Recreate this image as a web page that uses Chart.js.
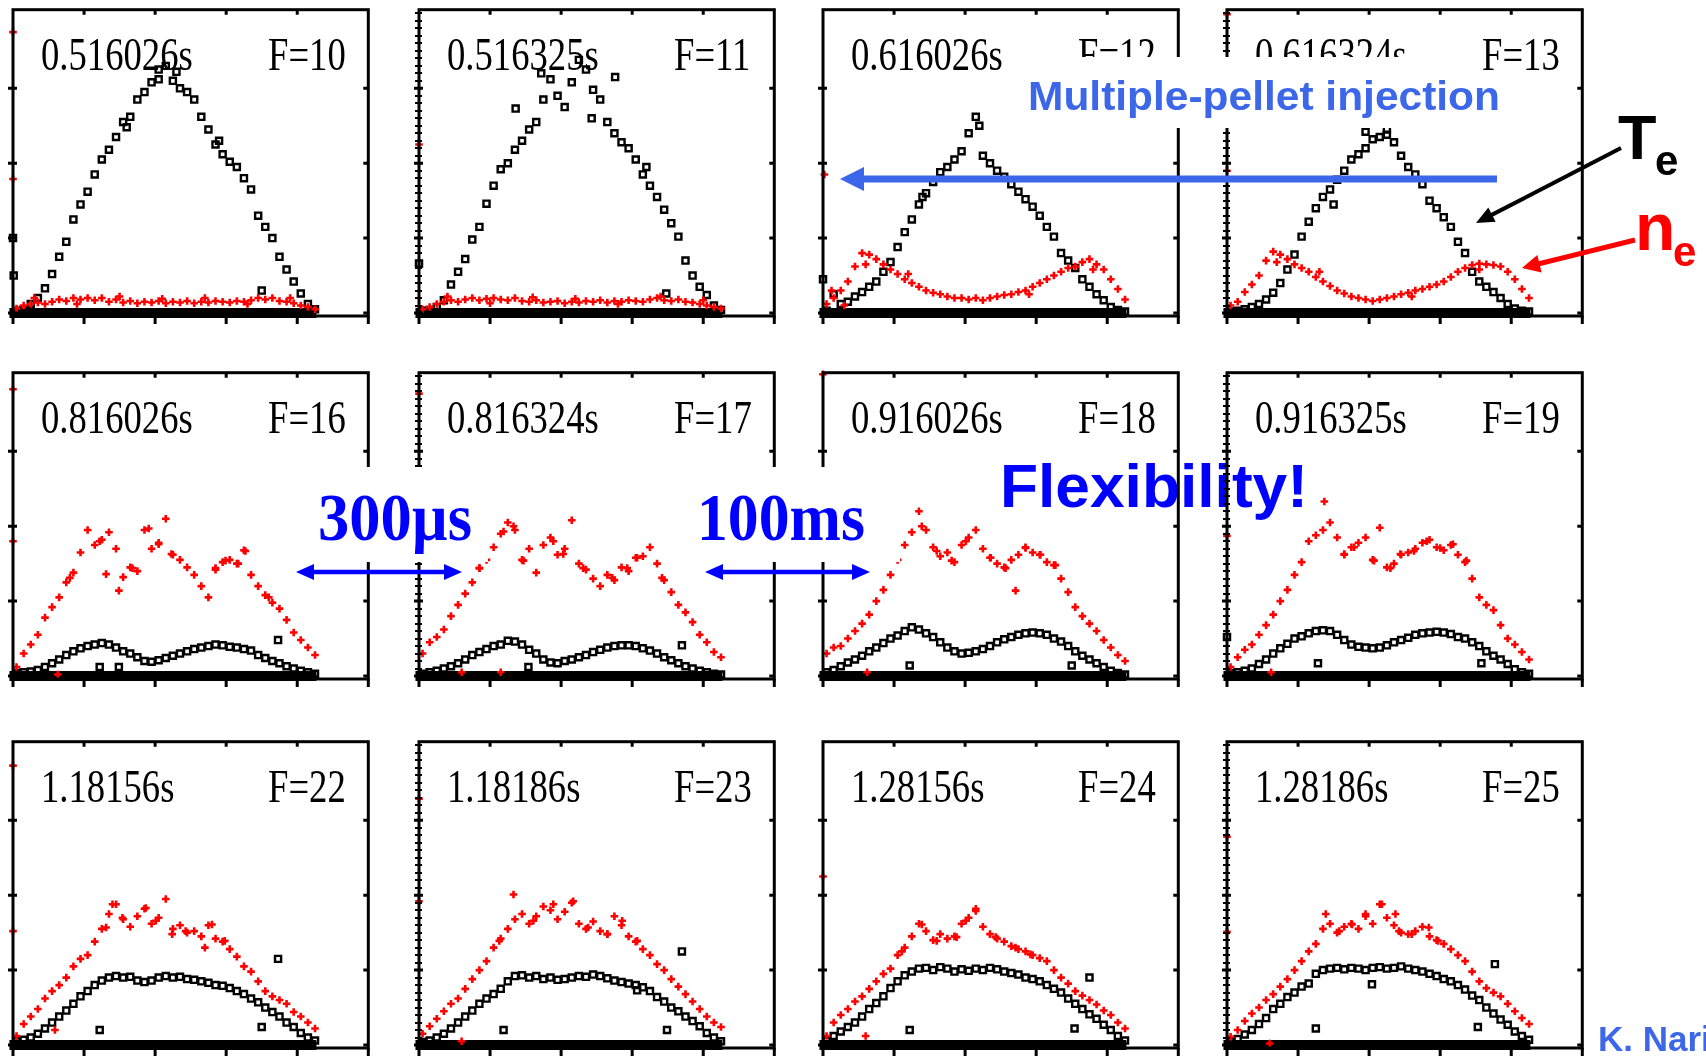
<!DOCTYPE html>
<html>
<head>
<meta charset="utf-8">
<script src="https://cdn.jsdelivr.net/npm/chart.js@4.4.1/dist/chart.umd.min.js"></script>
<style>
  body { margin: 0; background: #fff; }
  #page { position: relative; width: 1706px; height: 1057px; overflow: hidden; background: #fff; }
  #page canvas { position: absolute; z-index: 1; }
  #under, #over { position: absolute; left: 0; top: 0; }
  #under { z-index: 0; }
  #over { z-index: 2; }
</style>
</head>
<body>
<div id="page">
  <svg id="under" width="1706" height="1057">
    <text x="1000" y="507" font-family="Liberation Sans, Arial, sans-serif" font-weight="bold" font-size="62" fill="#0000ff" textLength="308" lengthAdjust="spacingAndGlyphs">Flexibility!</text>
  </svg>
  <svg id="over" width="1706" height="1057">
    <!-- white boxes behind the annotations -->
    <rect x="296" y="467" width="192" height="95" fill="#fff"/>
    <rect x="690" y="467" width="210" height="95" fill="#fff"/>
    <rect x="1005" y="57" width="471" height="71" fill="#fff"/>
    <text x="1028" y="110" font-family="Liberation Sans, Arial, sans-serif" font-weight="bold" font-size="41" fill="#3c67e8" textLength="472" lengthAdjust="spacingAndGlyphs">Multiple-pellet injection</text>
    <text x="318" y="540" font-family="Liberation Serif, Times New Roman, serif" font-weight="bold" font-size="68" fill="#0000ff" textLength="154" lengthAdjust="spacingAndGlyphs">300µs</text>
    <text x="697" y="540" font-family="Liberation Serif, Times New Roman, serif" font-weight="bold" font-size="68" fill="#0000ff" textLength="168" lengthAdjust="spacingAndGlyphs">100ms</text>
    <text x="1618" y="159" font-family="Liberation Sans, Arial, sans-serif" font-weight="bold" font-size="63" fill="#000">T</text>
    <text x="1655" y="175" font-family="Liberation Sans, Arial, sans-serif" font-weight="bold" font-size="42" fill="#000">e</text>
    <text x="1635" y="250" font-family="Liberation Sans, Arial, sans-serif" font-weight="bold" font-size="66" fill="#ff0000">n</text>
    <text x="1673" y="266" font-family="Liberation Sans, Arial, sans-serif" font-weight="bold" font-size="42" fill="#ff0000">e</text>
    <text x="1598" y="1051" font-family="Liberation Sans, Arial, sans-serif" font-weight="bold" font-size="35" fill="#3c67e8">K. Narihara</text>
  </svg>
</div>
<script>
// Thomson scattering channel radii (shared by every frame)
const chanR = [0.05,0.15,0.25,0.35,0.45,0.55,0.65,0.75,0.85,0.95,1.05,1.15,1.25,1.35,1.45,1.55,1.65,1.75,1.85,1.95,2.05,2.15,2.25,2.35,2.45,2.55,2.65,2.75,2.85,2.95,3.05,3.15,3.25,3.35,3.45,3.55,3.65,3.75,3.85,3.95,4.05,4.15,4.25];
const xTicks = [0, 1, 2, 3, 4, 5];
const yTicks = [0, 1, 2, 3];
const zeroBand = [-0.05, 4.27];   // channels sitting at zero

const panelTimes = ['0.516026s','0.516325s','0.616026s','0.616324s','0.816026s','0.816324s','0.916026s','0.916325s','1.18156s','1.18186s','1.28156s','1.28186s'];
const panelFrames = ['F=10','F=11','F=12','F=13','F=16','F=17','F=18','F=19','F=22','F=23','F=24','F=25'];

// Te (black) and ne (red) per frame, one value per channel
const teF10 = [0.03,0.05,0.12,0.2,0.33,0.52,0.75,0.95,1.25,1.45,1.62,1.85,2.05,2.18,2.35,2.55,2.62,2.85,2.95,3.08,3.25,3.3,3.1,3.0,2.95,2.85,2.62,2.45,2.25,2.12,2.02,1.95,1.8,1.65,1.3,1.15,1.0,0.75,0.58,0.42,0.26,0.12,0.05];
const neF10 = [0.06,0.1,0.12,0.14,0.12,0.15,0.18,0.16,0.2,0.18,0.2,0.17,0.2,0.15,0.18,0.14,0.16,0.13,0.15,0.14,0.16,0.13,0.15,0.14,0.16,0.13,0.15,0.14,0.16,0.15,0.14,0.16,0.15,0.17,0.2,0.18,0.2,0.16,0.15,0.13,0.1,0.08,0.05];
const teF11 = [0.03,0.04,0.08,0.17,0.38,0.55,0.72,0.98,1.15,1.46,1.7,1.92,2.0,2.18,2.3,2.45,2.55,2.85,3.12,2.9,2.75,3.08,3.38,3.25,2.98,2.85,2.55,2.4,2.28,2.2,2.05,1.85,1.7,1.55,1.38,1.2,1.02,0.7,0.5,0.35,0.24,0.1,0.04];
const neF11 = [0.05,0.08,0.12,0.15,0.17,0.15,0.18,0.2,0.17,0.19,0.2,0.18,0.17,0.2,0.16,0.15,0.17,0.14,0.15,0.16,0.13,0.15,0.14,0.16,0.15,0.17,0.14,0.16,0.15,0.17,0.16,0.15,0.18,0.2,0.17,0.16,0.18,0.15,0.14,0.12,0.1,0.08,0.06];
const teF12 = [0.03,0.25,0.12,0.15,0.22,0.28,0.35,0.42,0.55,0.68,0.88,1.08,1.25,1.45,1.6,1.75,1.88,1.95,2.05,2.16,2.4,2.62,2.1,2.0,1.9,1.82,1.72,1.62,1.52,1.42,1.3,1.15,1.02,0.8,0.7,0.6,0.45,0.35,0.25,0.17,0.08,0.04,0.02];
const neF12 = [0.12,0.2,0.3,0.42,0.62,0.8,0.78,0.72,0.65,0.58,0.52,0.45,0.4,0.35,0.3,0.27,0.25,0.22,0.2,0.2,0.18,0.2,0.17,0.2,0.22,0.24,0.25,0.28,0.3,0.35,0.4,0.45,0.5,0.55,0.6,0.62,0.68,0.72,0.65,0.58,0.45,0.32,0.18];
const teF13 = [0.02,0.03,0.05,0.08,0.12,0.18,0.27,0.4,0.58,0.78,1.02,1.22,1.4,1.55,1.65,1.78,1.9,2.05,2.12,2.2,2.32,2.35,2.38,2.28,2.1,1.95,1.85,1.72,1.5,1.4,1.28,1.15,0.95,0.8,0.55,0.42,0.35,0.28,0.2,0.12,0.06,0.03,0.02];
const neF13 = [0.1,0.15,0.28,0.38,0.5,0.7,0.82,0.78,0.72,0.65,0.6,0.55,0.48,0.42,0.36,0.3,0.26,0.22,0.2,0.18,0.16,0.18,0.2,0.22,0.25,0.27,0.3,0.32,0.35,0.38,0.42,0.48,0.55,0.6,0.64,0.66,0.65,0.64,0.62,0.55,0.45,0.32,0.2];
const teF16 = [0.04,0.05,0.06,0.08,0.12,0.17,0.22,0.28,0.33,0.37,0.4,0.42,0.44,0.42,0.38,0.33,0.3,0.25,0.2,0.19,0.21,0.24,0.27,0.3,0.33,0.36,0.38,0.4,0.42,0.41,0.39,0.38,0.36,0.34,0.28,0.24,0.2,0.17,0.13,0.1,0.07,0.05,0.03];
const neF16 = [0.12,0.3,0.42,0.55,0.78,0.92,1.05,1.25,1.38,1.65,1.95,1.75,1.82,1.92,1.7,1.32,1.45,1.4,1.95,1.7,1.78,2.1,1.62,1.55,1.45,1.35,1.2,1.05,1.42,1.52,1.55,1.5,1.68,1.35,1.2,1.08,0.98,0.9,0.75,0.58,0.48,0.38,0.28];
const teF17 = [0.03,0.05,0.07,0.1,0.13,0.17,0.22,0.28,0.32,0.36,0.4,0.42,0.47,0.46,0.42,0.35,0.3,0.22,0.18,0.17,0.2,0.22,0.25,0.28,0.32,0.35,0.38,0.4,0.41,0.41,0.4,0.37,0.34,0.3,0.25,0.21,0.17,0.13,0.1,0.07,0.05,0.03,0.02];
const neF17 = [0.3,0.45,0.52,0.62,0.8,0.95,1.1,1.25,1.44,1.55,1.72,1.9,2.05,1.95,1.55,1.7,1.38,1.75,1.85,1.62,1.7,2.08,1.5,1.42,1.3,1.2,1.35,1.28,1.45,1.4,1.58,1.6,1.72,1.5,1.28,1.12,0.95,0.85,0.72,0.55,0.45,0.32,0.25];
const teF18 = [0.05,0.08,0.13,0.18,0.22,0.27,0.33,0.38,0.44,0.5,0.54,0.6,0.65,0.62,0.57,0.52,0.45,0.38,0.33,0.3,0.31,0.33,0.36,0.4,0.45,0.49,0.52,0.55,0.57,0.58,0.57,0.55,0.5,0.46,0.4,0.33,0.27,0.22,0.17,0.12,0.07,0.04,0.02];
const neF18 = [0.3,0.38,0.4,0.5,0.6,0.7,0.82,1.0,1.15,1.35,1.55,1.75,1.92,2.2,1.95,1.72,1.6,1.65,1.52,1.75,1.85,1.95,1.7,1.58,1.5,1.45,1.55,1.62,1.72,1.65,1.62,1.52,1.48,1.3,1.12,0.92,0.8,0.7,0.6,0.48,0.38,0.28,0.2];
const teF19 = [0.04,0.05,0.07,0.1,0.16,0.22,0.3,0.37,0.43,0.5,0.53,0.57,0.6,0.61,0.6,0.55,0.48,0.42,0.39,0.38,0.37,0.38,0.41,0.45,0.48,0.51,0.55,0.57,0.58,0.59,0.58,0.56,0.52,0.5,0.45,0.4,0.33,0.27,0.22,0.16,0.09,0.05,0.03];
const neF19 = [0.12,0.25,0.35,0.42,0.55,0.68,0.82,1.0,1.15,1.35,1.52,1.8,1.88,1.95,2.05,1.85,1.62,1.72,1.78,1.85,1.55,1.98,1.45,1.5,1.62,1.65,1.7,1.78,1.82,1.72,1.68,1.75,1.62,1.52,1.3,1.05,0.95,0.88,0.68,0.5,0.42,0.32,0.22];
const teF22 = [0.05,0.07,0.1,0.15,0.22,0.3,0.38,0.46,0.55,0.65,0.72,0.8,0.86,0.9,0.92,0.9,0.91,0.86,0.84,0.86,0.9,0.92,0.9,0.91,0.88,0.87,0.85,0.83,0.8,0.79,0.76,0.72,0.68,0.62,0.57,0.5,0.44,0.38,0.3,0.24,0.16,0.1,0.06];
const neF22 = [0.12,0.28,0.38,0.48,0.62,0.72,0.8,0.9,1.05,1.15,1.2,1.38,1.55,1.75,1.88,1.68,1.58,1.72,1.82,1.62,1.7,1.95,1.55,1.6,1.5,1.52,1.45,1.6,1.42,1.38,1.28,1.18,1.05,0.98,0.85,0.72,0.65,0.6,0.55,0.44,0.38,0.3,0.22];
const teF23 = [0.04,0.06,0.1,0.15,0.22,0.3,0.38,0.46,0.55,0.62,0.68,0.75,0.85,0.92,0.93,0.9,0.92,0.88,0.9,0.87,0.88,0.9,0.92,0.91,0.94,0.92,0.89,0.86,0.84,0.82,0.8,0.77,0.72,0.64,0.58,0.5,0.45,0.38,0.32,0.25,0.16,0.1,0.05];
const neF23 = [0.15,0.25,0.35,0.45,0.55,0.62,0.75,0.88,1.0,1.12,1.3,1.42,1.55,1.68,1.75,1.62,1.72,1.85,1.8,1.68,1.78,1.9,1.62,1.55,1.65,1.52,1.48,1.72,1.6,1.45,1.38,1.28,1.2,1.08,1.0,0.88,0.78,0.68,0.58,0.48,0.38,0.3,0.24];
const teF24 = [0.06,0.12,0.18,0.24,0.3,0.38,0.48,0.56,0.65,0.76,0.85,0.93,0.98,1.02,1.03,1.0,1.04,1.02,0.98,1.01,0.99,1.02,1.0,1.03,1.01,0.98,0.96,0.94,0.9,0.88,0.85,0.8,0.75,0.7,0.62,0.55,0.48,0.41,0.35,0.27,0.2,0.12,0.06];
const neF24 = [0.12,0.3,0.4,0.48,0.58,0.65,0.75,0.85,0.95,1.02,1.2,1.3,1.45,1.62,1.52,1.4,1.48,1.42,1.45,1.62,1.7,1.82,1.58,1.48,1.42,1.38,1.32,1.28,1.25,1.2,1.16,1.12,1.0,0.9,0.82,0.72,0.66,0.6,0.54,0.46,0.4,0.3,0.22];
const teF25 = [0.05,0.08,0.14,0.2,0.28,0.36,0.48,0.55,0.64,0.7,0.78,0.82,0.95,1.0,1.02,1.03,1.01,1.03,1.02,1.0,1.03,1.04,1.02,1.03,1.05,1.02,1.0,0.98,0.95,0.92,0.88,0.85,0.8,0.74,0.66,0.6,0.5,0.42,0.34,0.27,0.18,0.12,0.07];
const neF25 = [0.11,0.2,0.32,0.42,0.5,0.6,0.68,0.78,0.88,1.0,1.12,1.25,1.35,1.55,1.62,1.5,1.58,1.62,1.55,1.72,1.62,1.88,1.7,1.6,1.5,1.48,1.52,1.58,1.45,1.4,1.35,1.28,1.2,1.12,0.98,0.85,0.76,0.7,0.65,0.55,0.45,0.36,0.28];

// extra scattered points [r, value]
const teExtraF10 = [[0.0,1.0],[0.01,0.5],[3.5,0.3],[2.05,3.12],[2.3,3.22],[1.6,2.48],[2.9,2.3]];
const neExtraF10 = [[0.0,3.75],[0.0,1.79],[0.3,0.2],[0.9,0.12],[1.5,0.22],[2.1,0.19],[2.7,0.2],[3.3,0.12],[3.9,0.2]];
const teExtraF11 = [[1.36,2.73],[2.76,3.15],[0.0,0.66],[3.48,0.26],[1.72,3.2],[2.43,2.6],[3.2,1.95]];
const neExtraF11 = [[0.0,2.25],[0.4,0.22],[1.0,0.13],[1.6,0.21],[2.2,0.19],[2.8,0.12],[3.4,0.22],[4.0,0.17]];
const teExtraF12 = [[0.0,0.45],[2.2,2.5],[1.4,1.55]];
const neExtraF12 = [[0.02,1.85],[0.3,0.1],[0.12,0.3],[0.6,0.65],[3.8,0.58],[1.2,0.52],[2.9,0.25]];
const teExtraF13 = [[1.95,2.42],[2.25,2.45],[1.5,1.45]];
const neExtraF13 = [[0.0,3.99],[0.0,1.9],[0.7,0.68],[3.55,0.58],[1.3,0.55],[2.6,0.22]];
const teExtraF16 = [[1.22,0.12],[1.49,0.12],[3.73,0.48]];
const neExtraF16 = [[0.0,3.83],[0.0,1.8],[1.22,1.8],[1.49,1.14],[1.68,1.44],[2.05,1.76],[2.23,1.63],[2.85,1.44],[3.17,1.5],[1.31,1.36],[1.91,1.97],[0.8,1.31],[2.99,1.54],[3.27,1.67],[3.6,1.05],[0.63,0.02]];
const teExtraF17 = [[1.54,0.12],[3.7,0.41]];
const neExtraF17 = [[0.0,3.77],[1.33,2.0],[2.03,1.63],[2.31,1.44],[2.72,1.31],[1.47,1.54],[1.89,1.8],[3.07,1.58],[0.85,1.44],[2.93,1.44],[3.42,1.31],[1.19,1.93],[0.6,0.05],[1.15,0.05]];
const teExtraF18 = [[1.22,0.14],[3.5,0.14]];
const neExtraF18 = [[0.0,4.03],[1.6,1.67],[2.01,1.8],[2.36,1.58],[2.71,1.14],[2.85,1.71],[3.06,1.62],[1.81,1.54],[1.39,2.0],[2.57,1.44],[3.27,1.48],[0.62,0.05]];
const teExtraF19 = [[1.28,0.17],[3.58,0.17],[0.0,0.52]];
const neExtraF19 = [[0.0,1.87],[1.37,2.33],[1.65,1.63],[2.07,1.54],[2.3,1.44],[2.44,1.63],[2.81,1.8],[3.0,1.71],[3.18,1.76],[1.79,1.72],[2.63,1.67],[3.37,1.54],[0.62,0.05]];
const teExtraF22 = [[1.22,0.2],[3.5,0.24],[3.73,1.15]];
const neExtraF22 = [[0.0,3.73],[0.0,1.52],[1.4,1.88],[1.54,1.7],[2.24,1.48],[2.43,1.52],[2.7,1.3],[2.8,1.61],[1.87,1.83],[2.01,1.66],[2.98,1.39],[1.31,1.57],[0.59,0.2]];
const teExtraF23 = [[1.19,0.2],[3.49,0.2],[3.7,1.25],[3.07,0.73]];
const neExtraF23 = [[0.0,3.29],[0.0,1.92],[1.33,2.01],[1.61,1.66],[2.38,1.57],[2.65,1.48],[2.86,1.66],[3.07,1.39],[1.89,1.88],[2.17,1.92],[1.13,1.39],[0.6,0.05]];
const teExtraF24 = [[1.22,0.2],[3.54,0.22],[3.75,0.9]];
const neExtraF24 = [[0.0,2.25],[1.6,1.39],[1.88,1.44],[2.01,1.66],[2.43,1.44],[2.71,1.3],[2.92,1.21],[1.39,1.61],[2.15,1.79],[1.11,1.25],[0.6,0.12]];
const teExtraF25 = [[1.25,0.22],[3.53,0.24],[3.77,1.08],[2.04,0.81]];
const neExtraF25 = [[0.0,2.78],[0.0,1.51],[1.39,1.75],[1.58,1.52],[1.76,1.61],[2.18,1.88],[2.37,1.75],[2.42,1.52],[2.6,1.48],[2.84,1.57],[2.97,1.39],[1.95,1.75],[0.6,0.02]];

const panels = [
  [teF10, neF10, teExtraF10, neExtraF10], [teF11, neF11, teExtraF11, neExtraF11],
  [teF12, neF12, teExtraF12, neExtraF12], [teF13, neF13, teExtraF13, neExtraF13],
  [teF16, neF16, teExtraF16, neExtraF16], [teF17, neF17, teExtraF17, neExtraF17],
  [teF18, neF18, teExtraF18, neExtraF18], [teF19, neF19, teExtraF19, neExtraF19],
  [teF22, neF22, teExtraF22, neExtraF22], [teF23, neF23, teExtraF23, neExtraF23],
  [teF24, neF24, teExtraF24, neExtraF24], [teF25, neF25, teExtraF25, neExtraF25]
];

// page layout
const colLeft = [13, 419, 823, 1227];
const rowBottom = [316, 679, 1048];
const PW = 358, PH = 309;
const PAD = { left: 8, right: 4, top: 4, bottom: 12 };

function squeezeText(ctx, text, x, y, sx) {
  ctx.save();
  ctx.translate(x, y);
  ctx.scale(sx, 1);
  ctx.fillText(text, 0, 0);
  ctx.restore();
}

const framePlugin = {
  id: 'frame',
  beforeDatasetsDraw(chart, args, opts) {
    const ctx = chart.ctx, a = chart.chartArea;
    ctx.save();
    ctx.font = '47px "Liberation Serif"';
    ctx.fillStyle = '#000';
    squeezeText(ctx, opts.time, a.left + 28, a.top + 60, 0.78);
    squeezeText(ctx, opts.frame, a.left + 255, a.top + 60, 0.78);
    ctx.restore();
  },
  afterDatasetsDraw(chart, args, opts) {
    const ctx = chart.ctx, a = chart.chartArea;
    const x = chart.scales.x, y = chart.scales.y;
    ctx.save();
    ctx.strokeStyle = '#000';
    ctx.lineWidth = 3;
    ctx.strokeRect(a.left, a.top, a.right - a.left, a.bottom - a.top);
    ctx.beginPath();
    xTicks.forEach(v => {
      const px = x.getPixelForValue(v);
      ctx.moveTo(px, a.bottom); ctx.lineTo(px, a.bottom + 8);
      if (v > 0 && v < 5) { ctx.moveTo(px, a.top); ctx.lineTo(px, a.top + 5); }
    });
    yTicks.forEach(v => {
      const py = y.getPixelForValue(v);
      ctx.moveTo(a.left - 5, py); ctx.lineTo(a.left + 4, py);
      ctx.moveTo(a.right - 5, py); ctx.lineTo(a.right, py);
    });
    ctx.stroke();
    if (opts.minor) {
      ctx.lineWidth = 2;
      ctx.beginPath();
      for (let v = 0.1; v < 4.05; v += 0.1) {
        const py = Math.round(y.getPixelForValue(v));
        ctx.moveTo(a.left - 4, py); ctx.lineTo(a.left + 3, py);
      }
      ctx.stroke();
    }
    ctx.restore();
  }
};

const page = document.getElementById('page');
panels.forEach((p, i) => {
  const r = Math.floor(i / 4), c = i % 4;
  const cv = document.createElement('canvas');
  cv.width = PW + PAD.left + PAD.right;
  cv.height = PH + PAD.top + PAD.bottom;
  cv.style.left = (colLeft[c] - PAD.left) + 'px';
  cv.style.top = (rowBottom[r] - PH - PAD.top) + 'px';
  page.appendChild(cv);

  const onChannels = ys => chanR.map((x, k) => ({ x: x, y: ys[k] }));
  const pairs = arr => arr.map(d => ({ x: d[0], y: d[1] }));

  new Chart(cv, {
    type: 'scatter',
    data: {
      datasets: [
        {
          label: 'ne',
          data: onChannels(p[1]).concat(pairs(p[3])),
          pointStyle: 'cross',
          pointRadius: 3.8,
          borderWidth: 2.6,
          borderColor: '#ff0000',
          backgroundColor: '#ff0000',
          order: 1,
          clip: false
        },
        {
          label: 'Te',
          data: onChannels(p[0]).concat(pairs(p[2])),
          pointStyle: 'rect',
          pointRadius: 4.3,
          borderWidth: 2.4,
          borderColor: '#000',
          backgroundColor: 'rgba(0,0,0,0)',
          order: 2,
          clip: false
        },
        {
          label: 'zero',
          data: [{ x: zeroBand[0], y: 0 }, { x: zeroBand[1], y: 0 }],
          showLine: true,
          borderColor: '#000',
          borderWidth: 10,
          pointRadius: 0,
          order: 3,
          clip: false
        }
      ]
    },
    options: {
      responsive: false,
      animation: false,
      events: [],
      layout: { padding: PAD },
      scales: {
        x: { type: 'linear', min: 0, max: 5, display: false },
        y: { type: 'linear', min: -0.04, max: 4.05, display: false }
      },
      plugins: {
        legend: { display: false },
        tooltip: { enabled: false },
        frame: { time: panelTimes[i], frame: panelFrames[i], minor: c % 2 === 1 }
      }
    },
    plugins: [framePlugin]
  });
});

// annotation arrows
const NS = 'http://www.w3.org/2000/svg';
const over = document.getElementById('over');
function addArrow(x1, y1, x2, y2, color, w, hl, hw, both) {
  const dx = x2 - x1, dy = y2 - y1, L = Math.hypot(dx, dy);
  const ux = dx / L, uy = dy / L, px = -uy, py = ux;
  const sx = both ? x1 + ux * hl * 0.8 : x1, sy = both ? y1 + uy * hl * 0.8 : y1;
  const line = document.createElementNS(NS, 'line');
  line.setAttribute('x1', sx); line.setAttribute('y1', sy);
  line.setAttribute('x2', x2 - ux * hl * 0.8); line.setAttribute('y2', y2 - uy * hl * 0.8);
  line.setAttribute('stroke', color); line.setAttribute('stroke-width', w);
  over.appendChild(line);
  const head = (tx, ty, bx, by) => {
    const poly = document.createElementNS(NS, 'polygon');
    const cx = tx + bx * hl, cy = ty + by * hl;
    poly.setAttribute('points', tx + ',' + ty + ' ' + (cx + px * hw) + ',' + (cy + py * hw) + ' ' + (cx - px * hw) + ',' + (cy - py * hw));
    poly.setAttribute('fill', color);
    over.appendChild(poly);
  };
  head(x2, y2, -ux, -uy);
  if (both) head(x1, y1, ux, uy);
}
addArrow(1497, 179, 840, 179, '#3c67e8', 7, 24, 12, false);
addArrow(1621, 148, 1476, 223, '#000', 4, 18, 8, false);
addArrow(1635, 240, 1522, 268, '#ff0000', 5, 18, 9, false);
addArrow(296, 572, 462, 572, '#0000ff', 4.5, 18, 8, true);
addArrow(705, 572, 870, 572, '#0000ff', 4.5, 18, 8, true);
</script>
</body>
</html>
